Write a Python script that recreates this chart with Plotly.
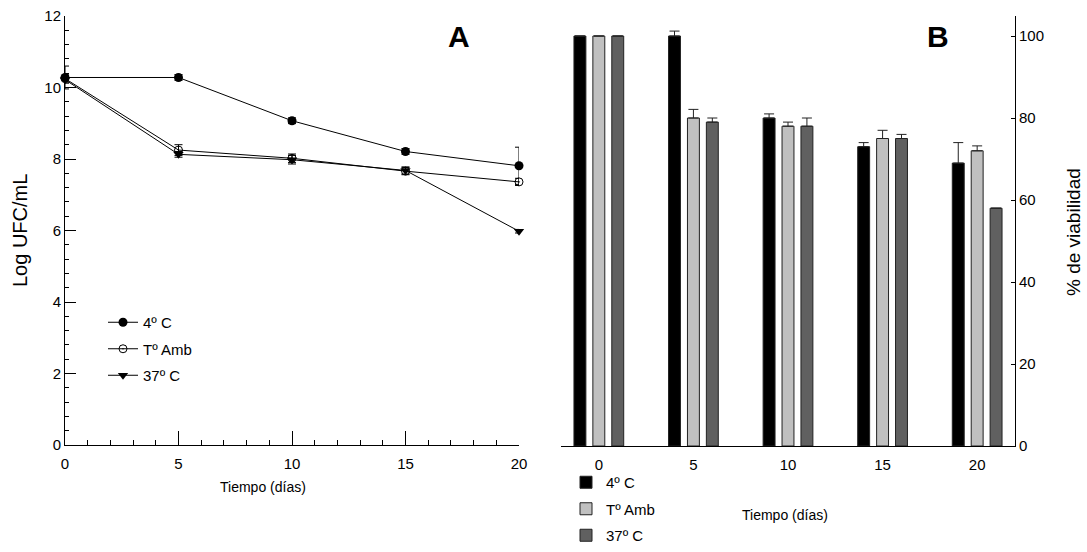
import plotly.graph_objects as go

# ---------------- data ----------------
days = [0, 5, 10, 15, 20]
series_names = ["4º C", "Tº Amb", "37º C"]

# Panel A: Log UFC/mL
log_4c = [10.28, 10.28, 9.07, 8.21, 7.81]
log_4c_err = [0.32, 0.08, 0.08, 0.08, 0.52]
log_amb = [10.25, 8.25, 8.02, 7.66, 7.36]
log_amb_err = [0.1, 0.15, 0.12, 0.1, 0.1]
log_37 = [10.22, 8.13, 7.98, 7.68, 5.98]
log_37_err = [0.1, 0.08, 0.12, 0.1, 0.05]

# Panel B: % de viabilidad
via_4c = [100, 100, 80, 73, 69]
via_4c_err = [0, 1.2, 1.0, 1.0, 5.0]
via_amb = [100, 80, 78, 75, 72]
via_amb_err = [0, 2.1, 1.0, 2.0, 1.2]
via_37 = [100, 79, 78, 75, 58]
via_37_err = [0, 1.0, 2.0, 1.0, 0]

FONT = "Liberation Sans, Arial, sans-serif"
W, H = 1087, 552

fig = go.Figure()

# ----- Panel A lines -----
line_specs = [
    (log_4c, log_4c_err, dict(symbol="circle", size=9, color="black")),
    (log_amb, log_amb_err, dict(symbol="circle-open-dot", size=8, color="black",
                                line=dict(color="black", width=1))),
    (log_37, log_37_err, dict(symbol="triangle-down", size=9, color="black")),
]
for name, (vals, err, mk) in zip(series_names, line_specs):
    fig.add_trace(go.Scatter(
        x=days, y=vals, name=name, mode="lines+markers",
        line=dict(color="black", width=1), marker=mk,
        error_y=dict(type="data", array=err, visible=True, color="black",
                     thickness=1, width=4),
        xaxis="x", yaxis="y", legend="legend", legendgroup=name,
        cliponaxis=False,
    ))

# ----- Panel B bars -----
bar_colors = ["#000000", "#c0c0c0", "#606060"]
for name, vals, err, col in zip(series_names,
                                [via_4c, via_amb, via_37],
                                [via_4c_err, via_amb_err, via_37_err],
                                bar_colors):
    fig.add_trace(go.Bar(
        x=days, y=vals, name=name, marker=dict(color=col, line=dict(color="#222", width=1)),
        error_y=dict(type="data", array=err, arrayminus=[0]*len(err), symmetric=False,
                     visible=True, color="#222", thickness=1, width=5),
        xaxis="x2", yaxis="y2", legend="legend2", legendgroup="b" + name,
    ))


def px(xp):
    return xp / W


def py(yp):
    return 1 - yp / H


axis_common = dict(showgrid=False, zeroline=False, showline=True, linecolor="black",
                   linewidth=1, automargin=False,
                   tickfont=dict(family=FONT, size=15, color="black"),
                   tickcolor="black")

fig.update_layout(
    template="none",
    width=W, height=H,
    margin=dict(l=0, r=0, t=0, b=0, pad=0),
    paper_bgcolor="white", plot_bgcolor="white",
    font=dict(family=FONT, size=14, color="black"),
    barmode="group", bargap=0.4, bargroupgap=0.37,
    xaxis=dict(domain=[px(65), px(519)], range=[0, 20], anchor="y",
               tickvals=[0, 5, 10, 15, 20], ticks="inside", ticklen=14,
               ticklabelstandoff=5,
               minor=dict(dtick=1, ticks="inside", ticklen=5, tickcolor="black"),
               **axis_common),
    yaxis=dict(domain=[py(445), py(16)], range=[0, 12], anchor="x",
               tickvals=[0, 2, 4, 6, 8, 10, 12], ticks="inside", ticklen=11,
               minor=dict(dtick=0.4, ticks="inside", ticklen=4, tickcolor="black"),
               **axis_common),
    xaxis2=dict(domain=[px(561), px(1015)], range=[-2, 22], anchor="y2",
                tickvals=[0, 5, 10, 15, 20], ticks="", ticklabelstandoff=5,
                **axis_common),
    yaxis2=dict(domain=[py(446), py(15.5)], range=[0, 105], anchor="x2", side="right",
                tickvals=[0, 20, 40, 60, 80, 100], ticks="inside", ticklen=4,
                **axis_common),
    legend=dict(x=px(103), y=py(306), xanchor="left", yanchor="top",
                bgcolor="rgba(0,0,0,0)", borderwidth=0, tracegroupgap=4,
                font=dict(family=FONT, size=15, color="black")),
    legend2=dict(x=px(566), y=0, xanchor="left", yanchor="bottom",
                 bgcolor="rgba(0,0,0,0)", borderwidth=0, tracegroupgap=4,
                 font=dict(family=FONT, size=15, color="black")),
    showlegend=True,
)

ann = [
    dict(text="<b>A</b>", x=px(459), y=py(37), font=dict(size=30)),
    dict(text="<b>B</b>", x=px(938), y=py(37), font=dict(size=30)),
    dict(text="Log UFC/mL", x=px(20), y=py(231), textangle=-90, font=dict(size=20)),
    dict(text="Tiempo (días)", x=px(263), y=py(487), font=dict(size=14)),
    dict(text="Tiempo (días)", x=px(785), y=py(515), font=dict(size=14)),
    dict(text="% de viabilidad", x=px(1073), y=py(232), textangle=-90, font=dict(size=19)),
]
for a in ann:
    fig.add_annotation(xref="paper", yref="paper", showarrow=False,
                       xanchor="center", yanchor="middle", **a)

fig.write_html("out.html", config={"displayModeBar": False},
               post_script="document.body.style.margin='0';document.body.style.overflow='hidden';")
